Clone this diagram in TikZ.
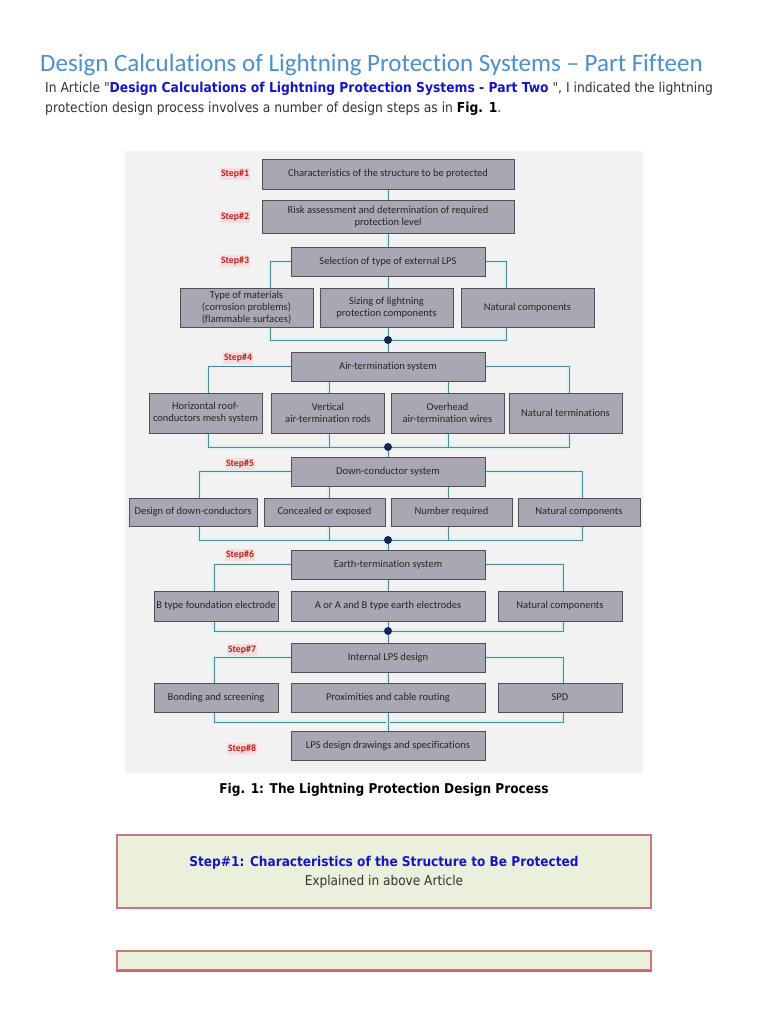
\documentclass[tikz,border=0pt]{standalone}
\usepackage{fontspec}
\setmainfont{DejaVu Sans Condensed}[Ligatures=TeXOff]
\newfontfamily\diagfont[Ligatures={NoCommon}]{Carlito}
\newfontfamily\titlefont[Ligatures={NoCommon}]{Carlito}
\pgfdeclarelayer{bg}
\pgfdeclarelayer{wires}
\pgfsetlayers{bg,wires,main}
\definecolor{titleblue}{HTML}{4A8FD0}
\definecolor{linkblue}{HTML}{1515C8}
\definecolor{bodytxt}{HTML}{333333}
\definecolor{boxfill}{HTML}{A8A7B3}
\definecolor{boxline}{HTML}{4F4F55}
\definecolor{wirecol}{HTML}{4F8A95}
\definecolor{wireglow}{HTML}{DAF1EF}
\definecolor{dotcol}{HTML}{14235A}
\definecolor{steprd}{HTML}{C0201E}
\definecolor{stepbg}{HTML}{F6DEDE}
\definecolor{panel}{HTML}{F2F2F2}
\definecolor{notefill}{HTML}{EAF0DC}
\definecolor{noteline}{HTML}{C97A78}
\begin{document}
\begin{tikzpicture}[x=1pt,y=-1pt,
  box/.style={draw=boxline, fill=boxfill, line width=0.8pt, inner sep=1pt, align=center,
    font=\diagfont\fontsize{10.5}{12}\selectfont, text=black!85},
  stlabel/.style={fill=stepbg, text=steprd, font=\diagfont\bfseries\fontsize{9.8}{11}\selectfont, inner sep=1.5pt},
  wire/.style={draw=wirecol, line width=1pt, preaction={draw=wireglow, line width=3.5pt}},
  jdot/.style={circle, fill=dotcol, inner sep=0pt, minimum size=8pt},
  notebox/.style={draw=noteline, fill=notefill, line width=1.2pt, inner sep=0pt}]
\begin{pgfonlayer}{bg}
\fill[white] (0,0) rectangle (768,1024);
\fill[panel] (125,151) rectangle (643,773);
\end{pgfonlayer}
\useasboundingbox (0,0) rectangle (768,1024);

% heading
\node[anchor=base west, inner sep=0pt, text=titleblue, font=\titlefont\fontsize{25}{28}\selectfont] (title) at (40,72)
  {Design Calculations of Lightning Protection Systems – Part Fifteen};
\node[anchor=base west, inner sep=0pt, text=bodytxt, font=\fontsize{13.7}{16}\selectfont] (p1) at (45,93)
  {In Article "\textcolor{linkblue}{\textbf{Design Calculations of Lightning Protection Systems - Part Two}} ", I indicated the lightning};
\node[anchor=base west, inner sep=0pt, text=bodytxt, font=\fontsize{13.7}{16}\selectfont] (p2) at (45,113)
  {protection design process involves a number of design steps as in \textbf{\color{black}Fig. 1}.};

% diagram nodes
\node[box, minimum width=252, minimum height=30] (s1) at (388,174) {Characteristics of the structure to be protected};
\node[box, minimum width=252, minimum height=33] (s2) at (388,216.5) {Risk assessment and determination of required\\protection level};
\node[box, minimum width=194, minimum height=29] (s3) at (388,261.5) {Selection of type of external LPS};
\node[box, minimum width=133, minimum height=39] (r3a) at (246.5,307.5) {Type of materials\\(corrosion problems)\\(flammable surfaces)};
\node[box, minimum width=133, minimum height=39] (r3b) at (386.5,307.5) {Sizing of lightning\\protection components};
\node[box, minimum width=133, minimum height=39] (r3c) at (527.5,307.5) {Natural components};
\node[jdot] (d3) at (388,340) {};

\node[box, minimum width=194, minimum height=29] (s4) at (388,366.5) {Air-termination system};
\node[box, minimum width=113, minimum height=40] (r4a) at (205.5,413) {Horizontal roof-\\conductors mesh system};
\node[box, minimum width=113, minimum height=40] (r4b) at (328,413) {Vertical\\air-termination rods};
\node[box, minimum width=113, minimum height=40] (r4c) at (447.5,413) {Overhead\\air-termination wires};
\node[box, minimum width=113, minimum height=40] (r4d) at (565.5,413) {Natural terminations};
\node[jdot] (d4) at (388,447) {};

\node[box, minimum width=194, minimum height=29] (s5) at (388,471.5) {Down-conductor system};
\node[box, minimum width=128, minimum height=28] (r5a) at (193,512) {Design of down-conductors};
\node[box, minimum width=121, minimum height=28] (r5b) at (324.5,512) {Concealed or exposed};
\node[box, minimum width=121, minimum height=28] (r5c) at (451.5,512) {Number required};
\node[box, minimum width=122, minimum height=28] (r5d) at (579,512) {Natural components};
\node[jdot] (d5) at (388,540) {};

\node[box, minimum width=194, minimum height=29] (s6) at (388,564.5) {Earth-termination system};
\node[box, minimum width=124, minimum height=30] (r6a) at (216,606) {B type foundation electrode};
\node[box, minimum width=194, minimum height=30] (r6b) at (388,606) {A or A and B type earth electrodes};
\node[box, minimum width=124, minimum height=30] (r6c) at (560,606) {Natural components};
\node[jdot] (d6) at (388,631) {};

\node[box, minimum width=194, minimum height=29] (s7) at (388,657.5) {Internal LPS design};
\node[box, minimum width=124, minimum height=29] (r7a) at (216,697.5) {Bonding and screening};
\node[box, minimum width=194, minimum height=29] (r7b) at (388,697.5) {Proximities and cable routing};
\node[box, minimum width=124, minimum height=29] (r7c) at (560,697.5) {SPD};

\node[box, minimum width=194, minimum height=29] (s8) at (388,745.5) {LPS design drawings and specifications};

% step labels
\node[stlabel] (l1) at (235,174) {Step\#1};
\node[stlabel] (l2) at (235,217) {Step\#2};
\node[stlabel] (l3) at (235,261) {Step\#3};
\node[stlabel] (l4) at (238,358) {Step\#4};
\node[stlabel] (l5) at (240,464) {Step\#5};
\node[stlabel] (l6) at (240,555) {Step\#6};
\node[stlabel] (l7) at (242,650) {Step\#7};
\node[stlabel] (l8) at (242,749) {Step\#8};

% bus coordinates
\coordinate (b3l) at (270,340); \coordinate (b3r) at (506,340);
\coordinate (b4l) at (208,447); \coordinate (b4b) at (329,447); \coordinate (b4c) at (448,447); \coordinate (b4r) at (569,447);
\coordinate (b5l) at (199,540); \coordinate (b5b) at (329,540); \coordinate (b5c) at (448,540); \coordinate (b5r) at (582,540);
\coordinate (b6l) at (214,631); \coordinate (b6r) at (563,631);
\coordinate (b7l) at (214,722); \coordinate (b7r) at (563,722);

\begin{pgfonlayer}{wires}
\draw[wire] (s1) -- (s2);
\draw[wire] (s2) -- (s3);
\draw[wire] (s3.west) -| (b3l) -- (b3r) |- (s3.east);
\draw[wire] (s3) -- (d3);
\draw[wire] (d3) -- (s4);
\draw[wire] (s4.west) -| (b4l) -- (b4r) |- (s4.east);
\draw[wire] (s4.south -| b4b) -- (b4b);
\draw[wire] (s4.south -| b4c) -- (b4c);
\draw[wire] (d4) -- (s5);
\draw[wire] (s5.west) -| (b5l) -- (b5r) |- (s5.east);
\draw[wire] (s5.south -| b5b) -- (b5b);
\draw[wire] (s5.south -| b5c) -- (b5c);
\draw[wire] (d5) -- (s6);
\draw[wire] (s6.west) -| (b6l) -- (b6r) |- (s6.east);
\draw[wire] (s6) -- (d6);
\draw[wire] (d6) -- (s7);
\draw[wire] (s7.west) -| (b7l) -- (b7r) |- (s7.east);
\draw[wire] (s7) -- (s8);
\end{pgfonlayer}

% caption
\node[anchor=base, inner sep=0pt, font=\bfseries\fontsize{13.5}{16}\selectfont] (cap) at (384,793) {Fig. 1: The Lightning Protection Design Process};

% note boxes
\node[notebox, minimum width=534, minimum height=73] (note1) at (384,871.5) {};
\node[anchor=base, inner sep=0pt, text=linkblue, font=\bfseries\fontsize{13.5}{16}\selectfont] (n1t) at (384,866) {Step\#1: Characteristics of the Structure to Be Protected};
\node[anchor=base, inner sep=0pt, text=bodytxt, font=\fontsize{13.5}{16}\selectfont] (n1s) at (384,885) {Explained in above Article};
\node[notebox, minimum width=534, minimum height=19] (note2) at (384,960.5) {};
\draw[noteline!80!red, line width=1.8pt] (note2.south west) -- (note2.south east);
\end{tikzpicture}
\end{document}
